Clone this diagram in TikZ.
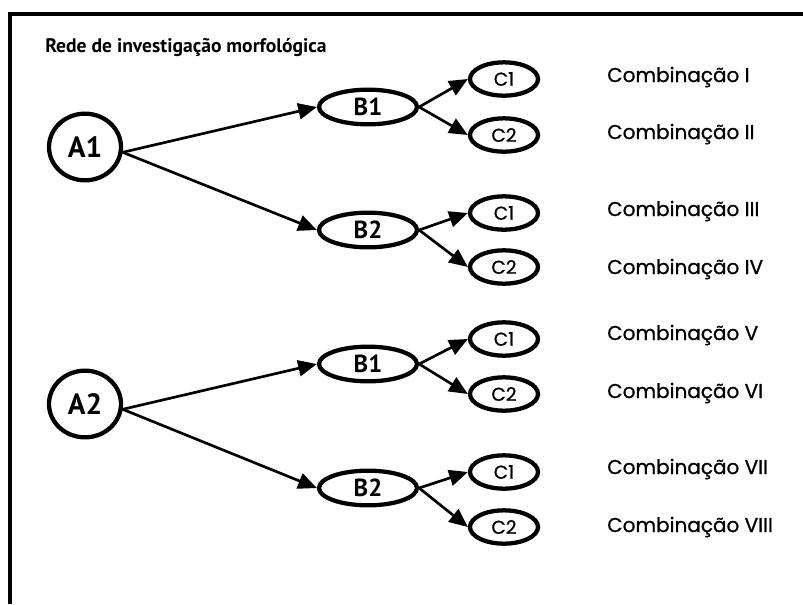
\documentclass[tikz,border=0pt]{standalone}
\usepackage{fontspec}
\usetikzlibrary{arrows.meta,shapes.geometric}
\newfontfamily\humfont{PT Sans}
\newfontfamily\geofont[FakeBold=0.9]{Poppins}
\tikzset{
  x=0.75pt, y=-0.75pt,
  frameline/.style={line width=3pt, line cap=butt},
  bubble/.style={ellipse, draw, line width=3.2pt, inner sep=0pt},
  anode/.style={bubble, minimum width=54pt, minimum height=50pt,
    font=\humfont\bfseries\fontsize{22}{22}\selectfont},
  bnode/.style={bubble, minimum width=73.5pt, minimum height=26pt,
    font=\humfont\bfseries\fontsize{18.5}{18.5}\selectfont},
  cnode/.style={bubble, minimum width=51pt, minimum height=25pt,
    font=\geofont\fontsize{14}{14}\selectfont},
  combo/.style={anchor=base west, inner sep=0pt,
    font=\geofont\fontsize{15}{15}\selectfont},
  link/.style={line width=2pt, -{Triangle[length=14pt,width=12pt]}},
}
\begin{document}
\begin{tikzpicture}
\useasboundingbox (0,0) rectangle (803,604);

% open frame: top and left edges only
\draw[frameline] (8,14) -- (803,14);
\draw[frameline] (10,12) -- (10,604);

\node[anchor=base west, inner sep=0pt,
  font=\humfont\bfseries\fontsize{14.7}{14.7}\selectfont] (title) at (45,52)
  {Rede de investigação morfológica};

% first level
\node[anode] (A1) at (85,147) {A1};
\node[anode] (A2) at (85,404) {A2};

% second level
\node[bnode] (B11) at (368,107) {B1};
\node[bnode] (B12) at (368,230) {B2};
\node[bnode] (B21) at (368,364) {B1};
\node[bnode] (B22) at (368,488) {B2};

% third level
\node[cnode] (C111) at (504,79) {C1};
\node[cnode] (C112) at (504,135) {C2};
\node[cnode] (C121) at (504,213) {C1};
\node[cnode] (C122) at (504,267) {C2};
\node[cnode] (C211) at (504,339) {C1};
\node[cnode] (C212) at (504,394) {C2};
\node[cnode] (C221) at (504,472) {C1};
\node[cnode] (C222) at (504,527) {C2};

% combination labels
\node[combo] (K1) at (607,82) {Combinação I};
\node[combo] (K2) at (607,139) {Combinação II};
\node[combo] (K3) at (607,216) {Combinação III};
\node[combo] (K4) at (607,274) {Combinação IV};
\node[combo] (K5) at (607,340) {Combinação V};
\node[combo] (K6) at (607,398) {Combinação VI};
\node[combo] (K7) at (607,474) {Combinação VII};
\node[combo] (K8) at (607,532) {Combinação VIII};

% connectors
\draw[link] (A1.-8) -- (B11.west);
\draw[link] (A1.-8) -- (B12.west);
\draw[link] (A2.-8) -- (B21.west);
\draw[link] (A2.-8) -- (B22.west);
\foreach \b/\c in {B11/C111, B11/C112, B12/C121, B12/C122,
                   B21/C211, B21/C212, B22/C221, B22/C222}
  \draw[link] (\b.east) -- (\c.west);
\end{tikzpicture}
\end{document}
